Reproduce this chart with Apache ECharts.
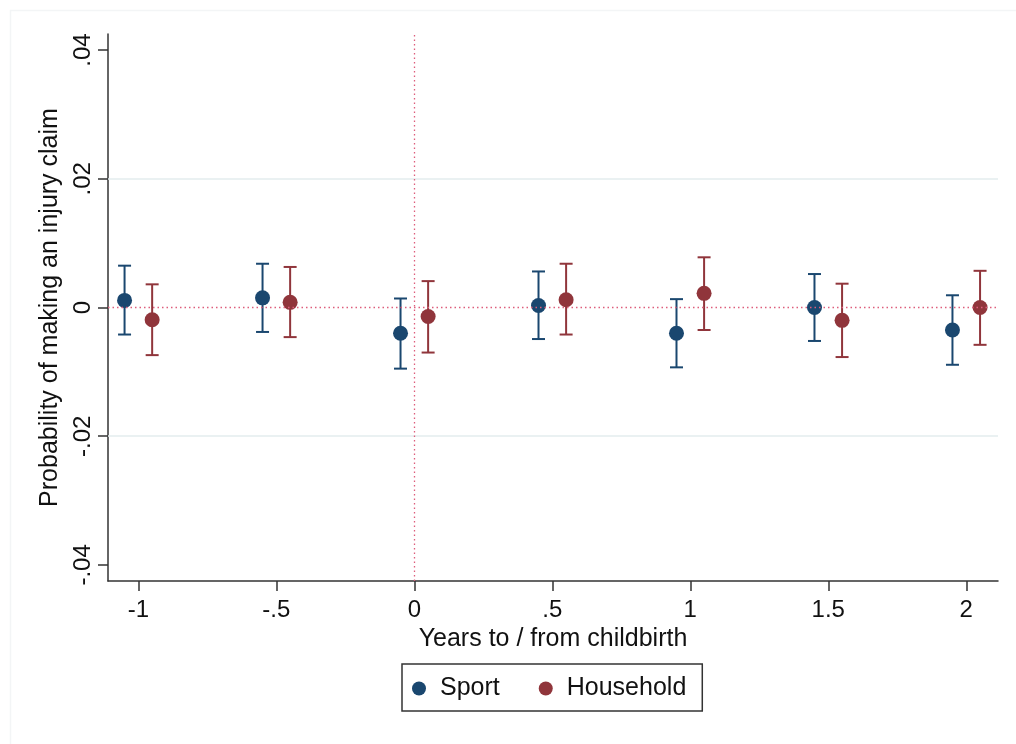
<!DOCTYPE html>
<html>
<head>
<meta charset="utf-8">
<script src="https://cdn.jsdelivr.net/npm/echarts@6/dist/echarts.min.js"></script>
<style>
html,body{margin:0;padding:0;background:#fff;}
#chart{width:1016px;height:744px;}
</style>
</head>
<body>
<div id="chart"></div>
<script>
const periods = [-1, -0.5, 0, 0.5, 1, 1.5, 2];
const sportCoef = [0.0011, 0.0015, -0.0040, 0.0003, -0.0040, 0.0000, -0.0035];
const sportLow = [-0.0042, -0.0038, -0.0095, -0.0049, -0.0093, -0.0052, -0.0089];
const sportHigh = [0.0065, 0.0068, 0.0014, 0.0056, 0.0013, 0.0052, 0.0019];
const householdCoef = [-0.0019, 0.0008, -0.0014, 0.0012, 0.0022, -0.0020, 0.0000];
const householdLow = [-0.0074, -0.0046, -0.0070, -0.0042, -0.0035, -0.0077, -0.0058];
const householdHigh = [0.0036, 0.0063, 0.0041, 0.0068, 0.0078, 0.0037, 0.0057];
const yTicks = [-0.04, -0.02, 0, 0.02, 0.04];
const xTicks = [-1, -0.5, 0, 0.5, 1, 1.5, 2];
const gridValues = [-0.02, 0.02];

const DODGE = 0.05;
const NAVY = '#1a476f';
const MAROON = '#90353b';
const REF = '#dd5e7c';
const FONT = "'Liberation Sans', Arial, sans-serif";

function fmt(v) {
  const s = String(Math.round(v * 10000) / 10000);
  return s.replace(/^(-?)0\./, '$1.');
}

function errData(lows, highs, off) {
  return periods.map((p, i) => [p + off, lows[i], highs[i]]);
}
function ptData(coefs, off) {
  return periods.map((p, i) => [p + off, coefs[i]]);
}

function renderErr(color) {
  return function (params, api) {
    const x = api.value(0);
    const lo = api.coord([x, api.value(1)]);
    const hi = api.coord([x, api.value(2)]);
    const w = 6.5;
    const style = { stroke: color, lineWidth: 2, fill: null };
    return {
      type: 'group',
      children: [
        { type: 'line', shape: { x1: lo[0], y1: lo[1], x2: hi[0], y2: hi[1] }, style: style },
        { type: 'line', shape: { x1: lo[0] - w, y1: lo[1], x2: lo[0] + w, y2: lo[1] }, style: style },
        { type: 'line', shape: { x1: hi[0] - w, y1: hi[1], x2: hi[0] + w, y2: hi[1] }, style: style }
      ]
    };
  };
}

const chart = echarts.init(document.getElementById('chart'), null, { renderer: 'canvas' });
chart.setOption({
  animation: false,
  backgroundColor: '#ffffff',
  textStyle: { fontFamily: FONT },
  graphic: [{
    type: 'rect', left: 8, top: 8, z: -10,
    shape: { x: 0, y: 0, width: 1030, height: 760 },
    style: { fill: null, stroke: '#f3f5f6', lineWidth: 1.5 }
  }],
  grid: { left: 108, right: 18, top: 34, bottom: 163, containLabel: false },
  legend: {
    data: ['Sport', 'Household'],
    left: 402, top: 664,
    orient: 'horizontal',
    icon: 'circle',
    itemWidth: 14, itemHeight: 14, itemGap: 39,
    padding: [11, 16, 9, 10],
    borderColor: '#333', borderWidth: 1.5, borderRadius: 0,
    textStyle: { fontSize: 25, color: '#111', fontFamily: FONT, lineHeight: 27, padding: [0, 0, 0, 9] }
  },
  xAxis: {
    type: 'value', min: -1.11, max: 2.115,
    name: 'Years to / from childbirth', nameLocation: 'middle', nameGap: 45,
    nameTextStyle: { fontSize: 25, color: '#111', fontFamily: FONT },
    axisLine: { show: true, onZero: false, lineStyle: { color: '#333', width: 1.5 } },
    axisTick: { show: true, length: 10, customValues: xTicks, lineStyle: { color: '#333', width: 1.5 } },
    axisLabel: { customValues: xTicks, formatter: fmt, fontSize: 24, color: '#111', margin: 17, fontFamily: FONT },
    splitLine: { show: false }
  },
  yAxis: {
    type: 'value', min: -0.0425, max: 0.0425,
    name: 'Probability of making an injury claim', nameLocation: 'middle', nameGap: 38, nameRotate: 90,
    nameTextStyle: { fontSize: 25, color: '#111', fontFamily: FONT },
    axisLine: { show: true, onZero: false, lineStyle: { color: '#333', width: 1.5 } },
    axisTick: { show: true, length: 10, customValues: yTicks, lineStyle: { color: '#333', width: 1.5 } },
    axisLabel: { customValues: yTicks, formatter: fmt, rotate: 90, fontSize: 24, color: '#111', margin: 13, fontFamily: FONT },
    splitLine: { show: false }
  },
  series: [
    {
      name: 'refs', type: 'scatter', data: [], silent: true, z: 1,
      markLine: {
        silent: true, symbol: 'none', label: { show: false }, animation: false,
        data: gridValues.map(v => ({ yAxis: v, lineStyle: { color: '#e3ecee', width: 1.5, type: 'solid' } }))
          .concat([
            { yAxis: 0, lineStyle: { color: REF, width: 1.3, type: [1.5, 3] } },
            { xAxis: 0, lineStyle: { color: REF, width: 1.3, type: [1.5, 3] } }
          ])
      }
    },
    {
      name: 'SportCI', type: 'custom', renderItem: renderErr(NAVY), z: 3,
      data: errData(sportLow, sportHigh, -DODGE), encode: { x: 0, y: [1, 2] }
    },
    {
      name: 'HouseholdCI', type: 'custom', renderItem: renderErr(MAROON), z: 3,
      data: errData(householdLow, householdHigh, DODGE), encode: { x: 0, y: [1, 2] }
    },
    {
      name: 'Sport', type: 'scatter', symbol: 'circle', symbolSize: 15, z: 4,
      itemStyle: { color: NAVY, opacity: 1 }, data: ptData(sportCoef, -DODGE)
    },
    {
      name: 'Household', type: 'scatter', symbol: 'circle', symbolSize: 15, z: 4,
      itemStyle: { color: MAROON, opacity: 1 }, data: ptData(householdCoef, DODGE)
    }
  ]
});
</script>
</body>
</html>
